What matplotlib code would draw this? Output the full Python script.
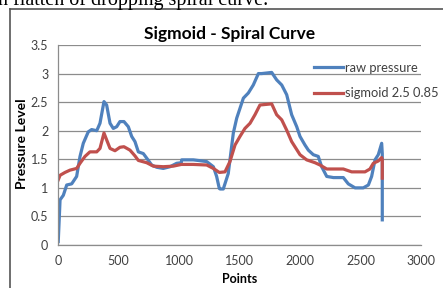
import numpy as np
import matplotlib.pyplot as plt
from matplotlib.lines import Line2D

# -- data (x = point index, y = pressure level)
raw_x = [2, 17, 44, 72, 113, 154, 182, 209, 250, 278, 320, 347, 380, 402, 430,
         457, 485, 512, 545, 581, 609, 636, 664, 705, 733, 774, 816, 870, 926,
         981, 1019, 1022, 1118, 1229, 1284, 1311, 1333, 1339, 1366, 1407, 1449,
         1477, 1532, 1573, 1614, 1656, 1683, 1766, 1807, 1849, 1890, 1931, 1973,
         2000, 2041, 2069, 2110, 2151, 2179, 2221, 2276, 2358, 2399, 2455, 2523,
         2565, 2592, 2620, 2647, 2675, 2680, 2680]
raw_y = [0.06, 0.79, 0.87, 1.05, 1.07, 1.2, 1.55, 1.78, 1.98, 2.02, 2.0, 2.13,
         2.51, 2.45, 2.13, 2.04, 2.07, 2.16, 2.16, 2.07, 1.9, 1.81, 1.63, 1.6,
         1.52, 1.4, 1.36, 1.34, 1.37, 1.43, 1.44, 1.49, 1.49, 1.46, 1.37, 1.2,
         0.99, 0.98, 0.98, 1.25, 1.96, 2.22, 2.57, 2.66, 2.8, 3.0, 3.0, 3.02,
         2.89, 2.8, 2.63, 2.28, 2.07, 1.9, 1.75, 1.66, 1.58, 1.55, 1.37, 1.2,
         1.18, 1.18, 1.07, 1.0, 1.0, 1.05, 1.2, 1.49, 1.58, 1.78, 1.6, 0.44]

sig_x = [2, 17, 58, 99, 154, 182, 223, 264, 320, 347, 380, 402, 430, 471, 512,
         545, 595, 636, 664, 733, 788, 870, 953, 1019, 1118, 1229, 1284, 1333,
         1380, 1421, 1463, 1504, 1545, 1587, 1628, 1669, 1766, 1807, 1849, 1890,
         1931, 2000, 2055, 2124, 2165, 2221, 2358, 2427, 2537, 2578, 2606, 2647,
         2675, 2680, 2680]
sig_y = [1.14, 1.22, 1.27, 1.31, 1.34, 1.43, 1.55, 1.63, 1.63, 1.69, 1.96, 1.84,
         1.69, 1.65, 1.71, 1.72, 1.66, 1.56, 1.48, 1.44, 1.38, 1.37, 1.38, 1.41,
         1.41, 1.40, 1.34, 1.27, 1.28, 1.46, 1.75, 1.9, 2.04, 2.13, 2.28, 2.45,
         2.47, 2.28, 2.19, 2.01, 1.81, 1.58, 1.49, 1.44, 1.40, 1.33, 1.33, 1.28,
         1.28, 1.33, 1.43, 1.47, 1.53, 1.5, 1.17]

labels = ['raw pressure', 'sigmoid 2.5 0.85']
x_ticks = [0, 500, 1000, 1500, 2000, 2500, 3000]
y_ticks = [0, 0.5, 1, 1.5, 2, 2.5, 3, 3.5]

W, H = 443, 288
fig = plt.figure(figsize=(W / 100, H / 100), dpi=100)
ax = fig.add_axes([58 / W, 1 - 245 / H, (421 - 58) / W, (245 - 45) / H])

ax.plot(raw_x, raw_y, color='#4F81BD', lw=2.3, label=labels[0], solid_joinstyle='round')
ax.plot(sig_x, sig_y, color='#C0504D', lw=2.3, label=labels[1], solid_joinstyle='round')

ax.set_xlim(0, 3000)
ax.set_ylim(0, 3.5)
ax.set_xticks(x_ticks)
ax.set_yticks(y_ticks)
ax.set_yticklabels(['0', '0.5', '1', '1.5', '2', '2.5', '3', '3.5'])
ax.tick_params(length=0, labelsize=9, labelcolor='#404040', pad=7)
for lab in ax.get_xticklabels() + ax.get_yticklabels():
    lab.set_family('Lato')
ax.grid(axis='y', color='#8c8c8c', lw=0.9)
ax.set_axisbelow(True)
for s in ['top', 'right']:
    ax.spines[s].set_visible(False)
for s in ['left', 'bottom']:
    ax.spines[s].set_color('#8c8c8c')
    ax.spines[s].set_linewidth(0.9)

fig.text(230 / W, 1 - 34 / H, 'Sigmoid - Spiral Curve', ha='center', va='center',
         family='Lato', weight='bold', size=12.5)
fig.text(240 / W, 1 - 279 / H, 'Points', ha='center', va='center',
         family='Lato', weight='bold', size=9)
fig.text(22 / W, 1 - 144 / H, 'Pressure Level', ha='center', va='center',
         rotation=90, family='Lato', weight='bold', size=10)

leg = ax.legend(loc='upper left', bbox_to_anchor=(302 / W, 1 - 50 / H),
                bbox_transform=fig.transFigure, frameon=False,
                handlelength=2.3, handletextpad=0.1, labelspacing=1.05,
                prop={'family': 'Lato', 'size': 9.3})
for t in leg.get_texts():
    t.set_color('#404040')

# document frame and clipped caption text above the chart
fig.add_artist(Line2D([10 / W, 10 / W], [0, 1 - 9 / H], transform=fig.transFigure,
                      color='#555555', lw=1.2))
fig.add_artist(Line2D([10 / W, 1], [1 - 9 / H, 1 - 9 / H], transform=fig.transFigure,
                      color='#555555', lw=1.2))
fig.text(-2 / W, 1 - 5 / H, 'n flatten of dropping spiral curve.', ha='left',
         va='baseline', family='Liberation Serif', size=14.5, color='black')

fig.savefig('out.png', dpi=100)
